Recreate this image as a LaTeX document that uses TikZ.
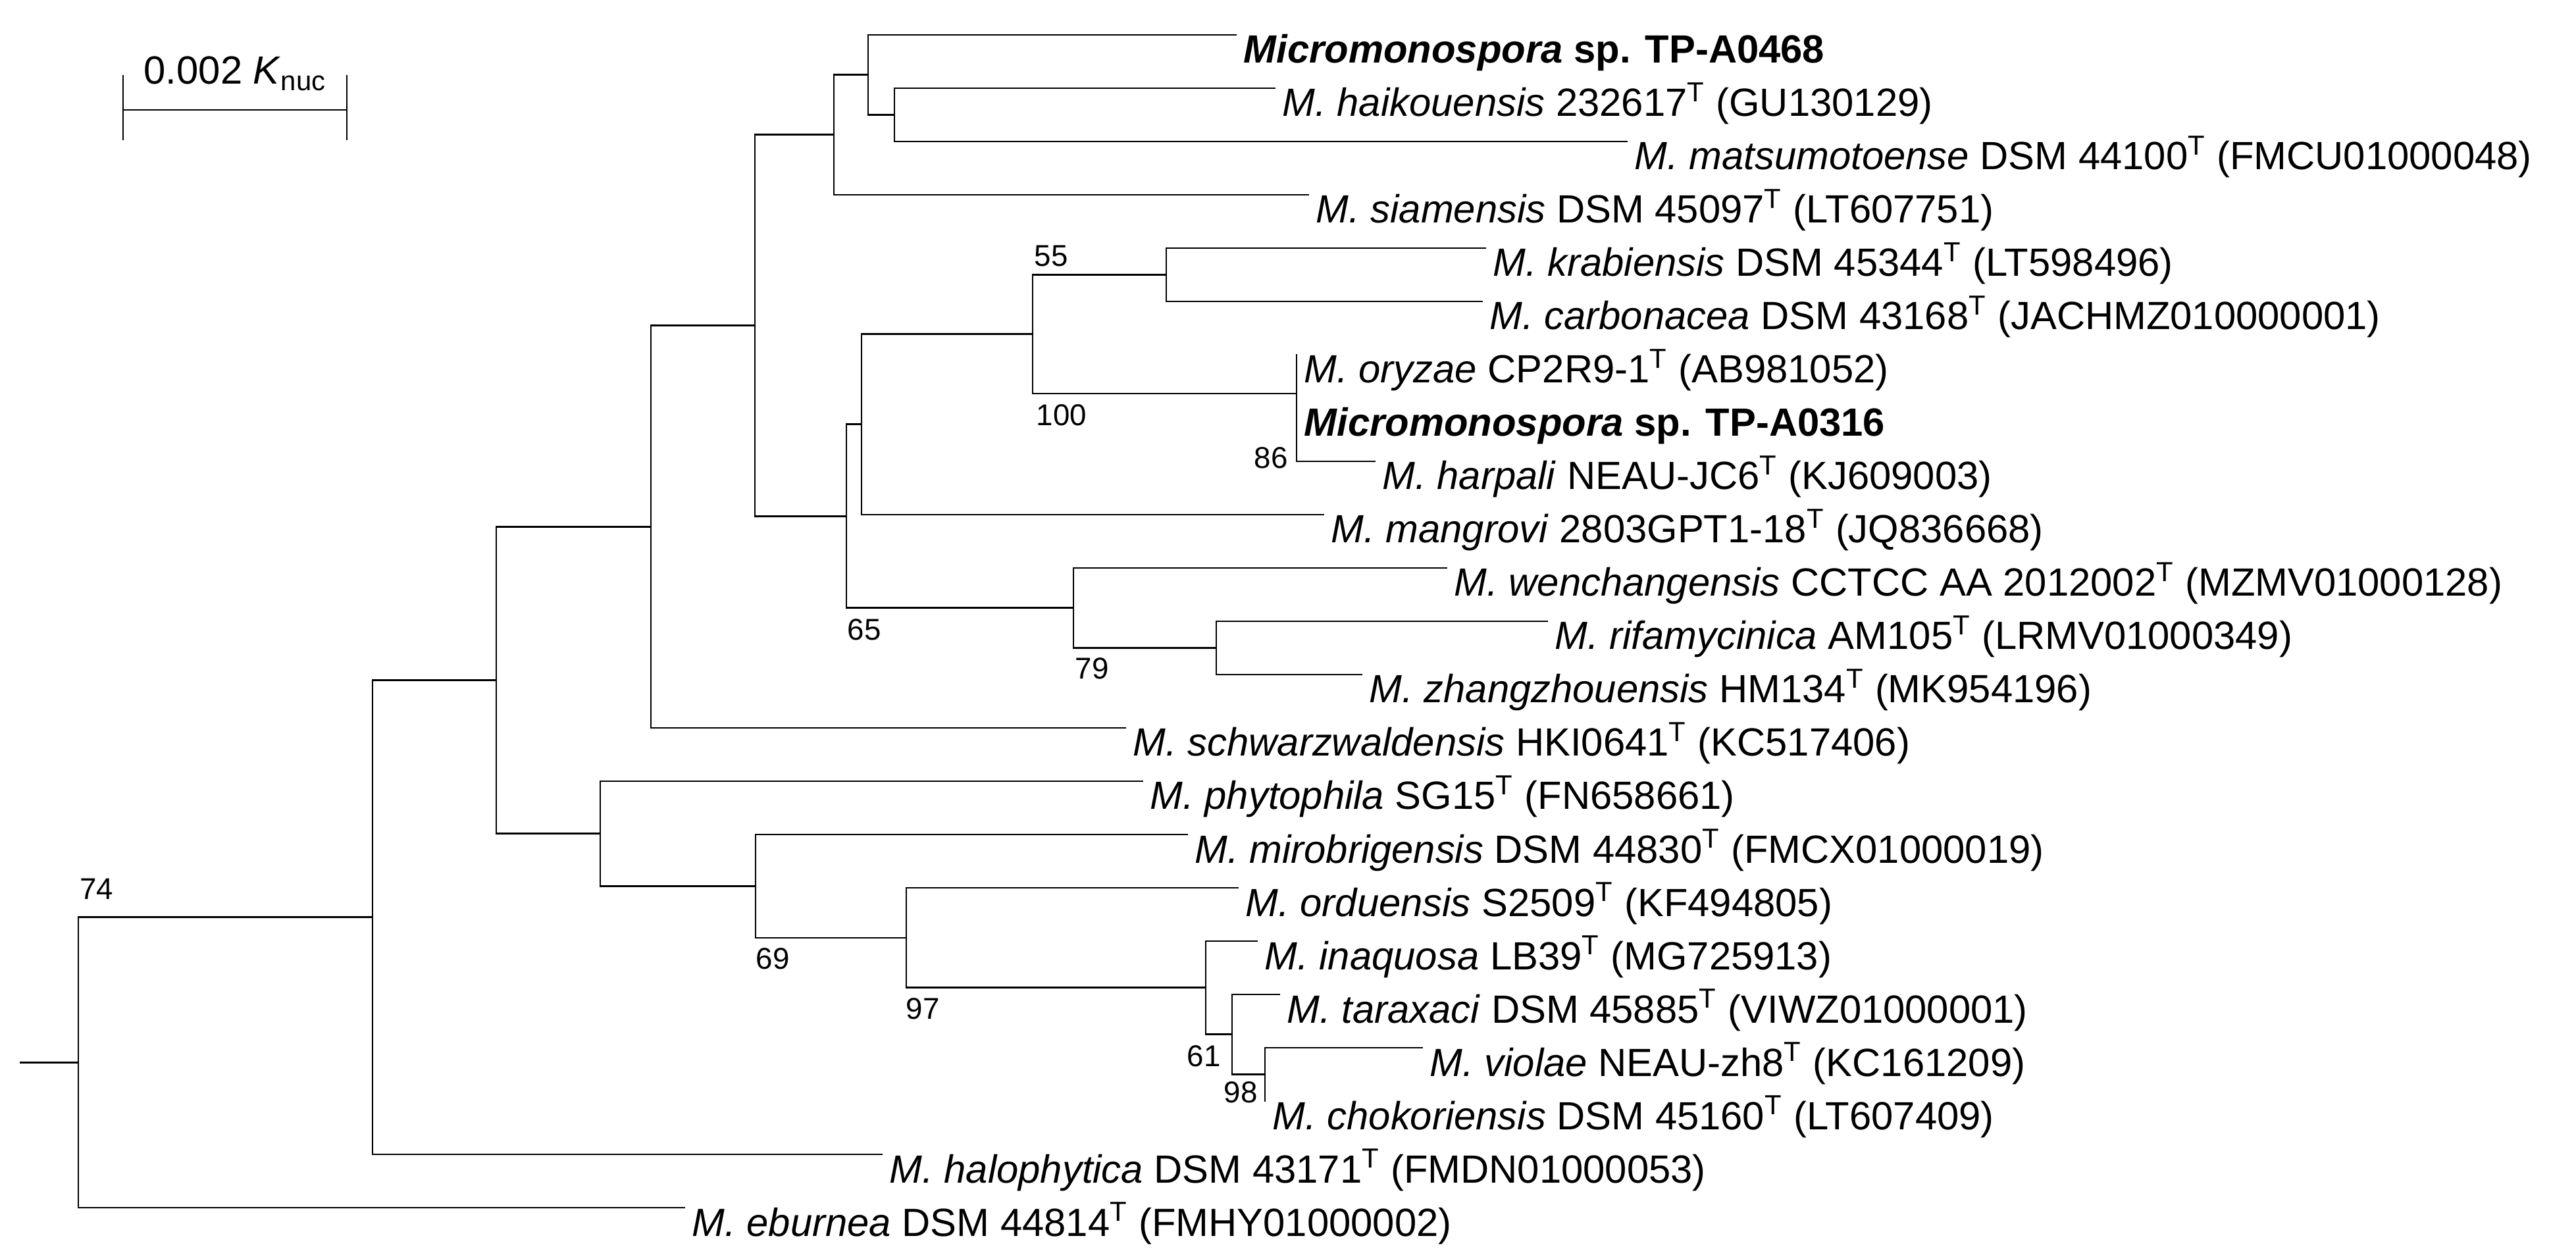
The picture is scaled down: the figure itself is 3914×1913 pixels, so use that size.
\documentclass[tikz,border=0pt]{standalone}
\usepackage{fontspec}
\setmainfont{Liberation Sans}
\newcommand\Tp{\textsuperscript{T}}
\newcommand\tip[4]{\coordinate (#1) at (#2,#3); \node[lab] (t#1) at (#2+11,#3+43) {#4};}
\tikzset{
  lab/.style={anchor=base west,inner sep=0pt,font=\fontsize{17}{20}\selectfont},
  bs/.style={anchor=center,inner sep=0pt,font=\fontsize{13}{15}\selectfont},
  br/.style={line width=0.8pt,line cap=rect}
}
\begin{document}
\begin{tikzpicture}[x=0.01cm,y=-0.01cm]
\useasboundingbox (0,0) rectangle (3914,1913);
% tips
\tip{l0}{1878}{53}{\textbf{\textit{Micromonospora} sp. TP-A0468}}
\tip{l1}{1937}{134}{\textit{M. haikouensis} 232617\Tp{} (GU130129)}
\tip{l2}{2472}{215}{\textit{M. matsumotoense} DSM 44100\Tp{} (FMCU01000048)}
\tip{l3}{1988}{296}{\textit{M. siamensis} DSM 45097\Tp{} (LT607751)}
\tip{l4}{2257}{377}{\textit{M. krabiensis} DSM 45344\Tp{} (LT598496)}
\tip{l5}{2252}{458}{\textit{M. carbonacea} DSM 43168\Tp{} (JACHMZ010000001)}
\tip{l6}{1970}{539}{\textit{M. oryzae} CP2R9-1\Tp{} (AB981052)}
\tip{l7}{1970}{620}{\textbf{\textit{Micromonospora} sp. TP-A0316}}
\tip{l8}{2089}{701}{\textit{M. harpali} NEAU-JC6\Tp{} (KJ609003)}
\tip{l9}{2011}{782}{\textit{M. mangrovi} 2803GPT1-18\Tp{} (JQ836668)}
\tip{l10}{2198}{863}{\textit{M. wenchangensis} CCTCC AA 2012002\Tp{} (MZMV01000128)}
\tip{l11}{2351}{944}{\textit{M. rifamycinica} AM105\Tp{} (LRMV01000349)}
\tip{l12}{2069}{1025}{\textit{M. zhangzhouensis} HM134\Tp{} (MK954196)}
\tip{l13}{1710}{1106}{\textit{M. schwarzwaldensis} HKI0641\Tp{} (KC517406)}
\tip{l14}{1736}{1187}{\textit{M. phytophila} SG15\Tp{} (FN658661)}
\tip{l15}{1804}{1268}{\textit{M. mirobrigensis} DSM 44830\Tp{} (FMCX01000019)}
\tip{l16}{1881}{1349}{\textit{M. orduensis} S2509\Tp{} (KF494805)}
\tip{l17}{1910}{1430}{\textit{M. inaquosa} LB39\Tp{} (MG725913)}
\tip{l18}{1944}{1511}{\textit{M. taraxaci} DSM 45885\Tp{} (VIWZ01000001)}
\tip{l19}{2161}{1592}{\textit{M. violae} NEAU-zh8\Tp{} (KC161209)}
\tip{l20}{1922}{1673}{\textit{M. chokoriensis} DSM 45160\Tp{} (LT607409)}
\tip{l21}{1340}{1754}{\textit{M. halophytica} DSM 43171\Tp{} (FMDN01000053)}
\tip{l22}{1040}{1835}{\textit{M. eburnea} DSM 44814\Tp{} (FMHY01000002)}
% internal nodes
\coordinate (hk) at (1359,174.5);
\coordinate (n1) at (1319,113.75);
\coordinate (n2) at (1267,204.9);
\coordinate (kb) at (1772,417.5);
\coordinate (oz) at (1970,598);
\coordinate (n5) at (1569,507.75);
\coordinate (n4) at (1309,644.9);
\coordinate (rf) at (1848,984.5);
\coordinate (wc) at (1631,923.75);
\coordinate (n65) at (1286,784.3);
\coordinate (n3) at (1147,494.6);
\coordinate (nD) at (989,800.3);
\coordinate (n98) at (1922,1632.5);
\coordinate (tx) at (1872,1571.75);
\coordinate (n61) at (1832,1500.9);
\coordinate (n97) at (1377,1425);
\coordinate (n69) at (1148,1346.5);
\coordinate (ph) at (912,1266.75);
\coordinate (nC) at (754,1033.5);
\coordinate (nB) at (566,1393.8);
\coordinate (nA) at (119,1614.4);
\coordinate (root) at (31,1614.4);
% branches
\begin{scope}[br]
\draw (hk) |- (l1); \draw (hk) |- (l2);
\draw (n1) |- (l0); \draw (n1) |- (hk);
\draw (n2) |- (n1); \draw (n2) |- (l3);
\draw (kb) |- (l4); \draw (kb) |- (l5);
\draw (oz) |- (l6); \draw (oz) |- (l8);
\draw (n5) |- (kb); \draw (n5) |- (oz);
\draw (n4) |- (n5); \draw (n4) |- (l9);
\draw (rf) |- (l11); \draw (rf) |- (l12);
\draw (wc) |- (l10); \draw (wc) |- (rf);
\draw (n65) |- (n4); \draw (n65) |- (wc);
\draw (n3) |- (n2); \draw (n3) |- (n65);
\draw (nD) |- (n3); \draw (nD) |- (l13);
\draw (n98) |- (l19); \draw (n98) |- (l20);
\draw (tx) |- (l18); \draw (tx) |- (n98);
\draw (n61) |- (l17); \draw (n61) |- (tx);
\draw (n97) |- (l16); \draw (n97) |- (n61);
\draw (n69) |- (l15); \draw (n69) |- (n97);
\draw (ph) |- (l14); \draw (ph) |- (n69);
\draw (nC) |- (nD); \draw (nC) |- (ph);
\draw (nB) |- (nC); \draw (nB) |- (l21);
\draw (nA) |- (nB); \draw (nA) |- (l22);
\draw (root) -- (nA);
\end{scope}
% bootstrap values
\node[bs] (b74) at (147,1351) {74};
\node[bs] (b55) at (1597,389) {55};
\node[bs] (b100) at (1613,631) {100};
\node[bs] (b86) at (1931,696) {86};
\node[bs] (b65) at (1313,957) {65};
\node[bs] (b79) at (1659,1016) {79};
\node[bs] (b69) at (1174,1457) {69};
\node[bs] (b97) at (1402,1533) {97};
\node[bs] (b61) at (1829,1605) {61};
\node[bs] (b98) at (1885,1660) {98};
% scale bar
\coordinate (sa) at (187,167);
\coordinate (sb) at (527,167);
\draw[br,line cap=butt] (sa) -- (sb);
\draw[br,line cap=butt] ([yshift=15]sa) -- ([yshift=-13]sa);
\draw[br,line cap=butt] ([yshift=15]sb) -- ([yshift=-13]sb);
\node[lab] (sl) at (218,128) {0.002 \textit{K}\textsubscript{nuc}};
\end{tikzpicture}
\end{document}
